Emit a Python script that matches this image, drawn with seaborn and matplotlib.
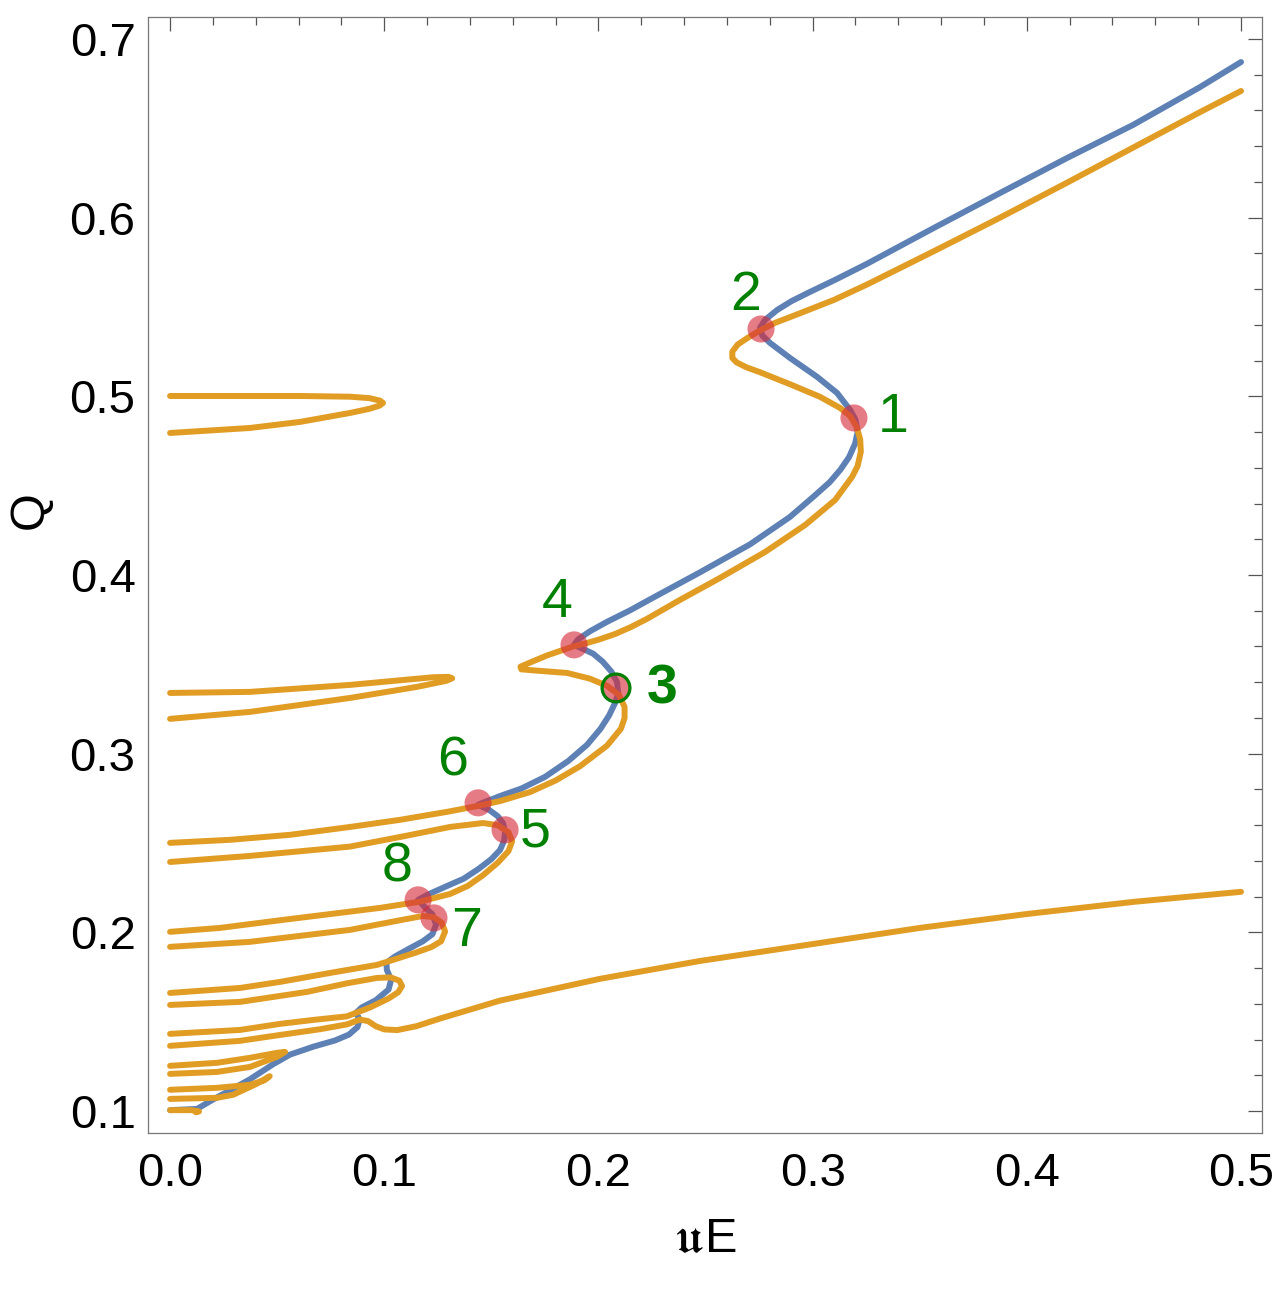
import numpy as np
import pandas as pd
import matplotlib
matplotlib.use("Agg")
import matplotlib.pyplot as plt
import seaborn as sns
from matplotlib.ticker import MultipleLocator

sns.set_style("white")
plt.rcParams['font.family'] = ['Liberation Sans', 'DejaVu Sans']
plt.rcParams['mathtext.fontset'] = 'stix'
plt.rcParams['text.color'] = 'black'
plt.rcParams['axes.labelcolor'] = 'black'
plt.rcParams['xtick.labelcolor'] = 'black'
plt.rcParams['ytick.labelcolor'] = 'black'

BLUE = "#5e81b5"
ORANGE = "#e19c24"
GREEN = "#008000"
RED = "#d62a3a"

# main (blue) branch, read from the top right down to the origin
blue_x = [0.5000, 0.4809, 0.4496, 0.4188, 0.3875, 0.3562, 0.3254, 0.3105, 0.2980, 0.2900,
          0.2834, 0.2778, 0.2754, 0.2765, 0.2801, 0.2894, 0.3021, 0.3114, 0.3175, 0.3200,
          0.3210, 0.3198, 0.3170, 0.3130, 0.3080, 0.3010, 0.2894, 0.2708, 0.2474, 0.2241,
          0.2147, 0.2040, 0.1960, 0.1905, 0.1886, 0.1925, 0.1975, 0.2020, 0.2060, 0.2087,
          0.2092, 0.2080, 0.2050, 0.2010, 0.1947, 0.1860, 0.1750, 0.1640, 0.1545, 0.1470,
          0.1438, 0.1490, 0.1530, 0.1555, 0.1564, 0.1560, 0.1541, 0.1500, 0.1440, 0.1370,
          0.1290, 0.1210, 0.1158, 0.1190, 0.1225, 0.1242, 0.1225, 0.1180, 0.1110, 0.1050,
          0.1010, 0.1012, 0.1032, 0.1020, 0.0960, 0.0895, 0.0868, 0.0885, 0.0875, 0.0835,
          0.0770, 0.0668, 0.0560, 0.0481, 0.0373, 0.0266, 0.0201, 0.0126, 0.0000]
blue_q = [0.6871, 0.6731, 0.6519, 0.6334, 0.6138, 0.5940, 0.5742, 0.5652, 0.5580, 0.5532,
          0.5483, 0.5428, 0.5383, 0.5340, 0.5299, 0.5215, 0.5109, 0.5019, 0.4924, 0.4870,
          0.4800, 0.4735, 0.4660, 0.4590, 0.4520, 0.4445, 0.4325, 0.4172, 0.4015, 0.3864,
          0.3802, 0.3738, 0.3685, 0.3640, 0.3609, 0.3588, 0.3560, 0.3515, 0.3460, 0.3400,
          0.3340, 0.3290, 0.3215, 0.3140, 0.3050, 0.2960, 0.2870, 0.2805, 0.2765, 0.2730,
          0.2714, 0.2685, 0.2650, 0.2610, 0.2562, 0.2515, 0.2462, 0.2410, 0.2355, 0.2300,
          0.2258, 0.2215, 0.2182, 0.2140, 0.2100, 0.2045, 0.1990, 0.1950, 0.1905, 0.1865,
          0.1830, 0.1790, 0.1735, 0.1680, 0.1620, 0.1580, 0.1550, 0.1512, 0.1470, 0.1428,
          0.1395, 0.1360, 0.1316, 0.1262, 0.1178, 0.1107, 0.1065, 0.1012, 0.1005]

# orange branches
oa_x = [0.5, 0.4809, 0.4496, 0.4188, 0.3875, 0.3562, 0.3254, 0.3100, 0.2941, 0.2824,
        0.2759, 0.2700, 0.2650, 0.2625, 0.2625, 0.2645, 0.2690, 0.2754, 0.2894, 0.3035,
        0.3128, 0.3175, 0.3205, 0.3222, 0.3225, 0.3210, 0.3184, 0.3105, 0.2965, 0.2778,
        0.2568, 0.2381, 0.2227, 0.2150, 0.2078, 0.2000, 0.1947, 0.1881, 0.1760, 0.1680,
        0.1636, 0.1640, 0.1700, 0.1853, 0.1960, 0.2040, 0.2095, 0.2122, 0.2122, 0.2105,
        0.2040, 0.1914, 0.1800, 0.1680, 0.1541, 0.1438, 0.1300, 0.1074, 0.0840, 0.0560,
        0.0280, 0.0]
oa_q = [0.6709, 0.6591, 0.6392, 0.6196, 0.6000, 0.5810, 0.5626, 0.5540, 0.5465, 0.5411,
        0.5372, 0.5330, 0.5290, 0.5250, 0.5215, 0.5190, 0.5163, 0.5135, 0.5068, 0.4997,
        0.4935, 0.4890, 0.4830, 0.4760, 0.4690, 0.4610, 0.4549, 0.4420, 0.4280, 0.4129,
        0.3984, 0.3861, 0.3755, 0.3708, 0.3670, 0.3638, 0.3620, 0.3600, 0.3550, 0.3510,
        0.3487, 0.3472, 0.3466, 0.3452, 0.3420, 0.3380, 0.3330, 0.3262, 0.3200, 0.3140,
        0.3045, 0.2930, 0.2850, 0.2785, 0.2735, 0.2708, 0.2676, 0.2630, 0.2590, 0.2546,
        0.2518, 0.2501]
ob_x = [0.0, 0.0373, 0.0840, 0.1100, 0.1307, 0.1461, 0.1530, 0.1580, 0.1597, 0.1580,
        0.1530, 0.1461, 0.1390, 0.1307, 0.1167, 0.0980, 0.0528, 0.0233, 0.0]
ob_q = [0.2394, 0.2428, 0.2480, 0.2540, 0.2590, 0.2612, 0.2600, 0.2560, 0.2510, 0.2455,
        0.2390, 0.2320, 0.2260, 0.2215, 0.2172, 0.2137, 0.2070, 0.2025, 0.2003]
oc_x = [0.0, 0.0373, 0.0840, 0.1074, 0.1181, 0.1230, 0.1268, 0.1284, 0.1265, 0.1220,
        0.1150, 0.1041, 0.0966, 0.0747, 0.0514, 0.0327, 0.0]
oc_q = [0.1919, 0.1947, 0.2014, 0.2068, 0.2092, 0.2085, 0.2055, 0.2005, 0.1950, 0.1918,
        0.1888, 0.1846, 0.1818, 0.1773, 0.1723, 0.1689, 0.1661]
od_x = [0.0, 0.0327, 0.0640, 0.0826, 0.0966, 0.1030, 0.1070, 0.1083, 0.1065, 0.1020,
        0.0934, 0.0826, 0.0668, 0.0514, 0.0327, 0.0]
od_q = [0.1594, 0.1611, 0.1667, 0.1715, 0.1745, 0.1748, 0.1730, 0.1700, 0.1665, 0.1630,
        0.1580, 0.1530, 0.1510, 0.1488, 0.1454, 0.1432]
oe_x = [0.0, 0.0327, 0.0514, 0.0700, 0.0826, 0.0887, 0.0925, 0.0960, 0.1000, 0.1060,
        0.1150, 0.1261, 0.1540, 0.2007, 0.2474, 0.3002, 0.3501, 0.4001, 0.4500, 0.5]
oe_q = [0.1365, 0.1393, 0.1426, 0.1458, 0.1485, 0.1512, 0.1503, 0.1475, 0.1457, 0.1453,
        0.1475, 0.1518, 0.1618, 0.1740, 0.1840, 0.1935, 0.2025, 0.2103, 0.2171, 0.2227]
of_x = [0.0, 0.0219, 0.0373, 0.0500, 0.0537, 0.0500, 0.0373, 0.0219, 0.0]
of_q = [0.1253, 0.1270, 0.1298, 0.1326, 0.1331, 0.1304, 0.1247, 0.1219, 0.1208]
og_x = [0.0, 0.0219, 0.0373, 0.0440, 0.0465, 0.0400, 0.0294, 0.0219, 0.0]
og_q = [0.1119, 0.1130, 0.1147, 0.1172, 0.1195, 0.1150, 0.1091, 0.1074, 0.1068]
oh_x = [0.0, 0.0100, 0.0135, 0.0120]
oh_q = [0.1005, 0.1005, 0.0998, 0.0993]
t1_x = [0.0, 0.0607, 0.0840, 0.0930, 0.0980, 0.0994, 0.0978, 0.0930, 0.0840, 0.0607,
        0.0373, 0.0]
t1_q = [0.5002, 0.5002, 0.4998, 0.4990, 0.4976, 0.4963, 0.4948, 0.4930, 0.4907, 0.4857,
        0.4823, 0.4795]
t2_x = [0.0, 0.0373, 0.0840, 0.1228, 0.1300, 0.1317, 0.1290, 0.1153, 0.0840, 0.0373, 0.0]
t2_q = [0.3340, 0.3346, 0.3385, 0.3428, 0.3430, 0.3422, 0.3408, 0.3374, 0.3312, 0.3234,
        0.3195]

# marked points and their labels
pt_names = ["1", "2", "3", "4", "5", "6", "7", "8"]
pt_x = [0.3193, 0.2759, 0.2082, 0.1886, 0.1564, 0.1438, 0.1232, 0.1158]
pt_q = [0.4879, 0.5377, 0.3368, 0.3609, 0.2574, 0.2725, 0.2081, 0.2182]
lab_x = [0.3375, 0.2689, 0.2297, 0.1807, 0.1704, 0.1317, 0.1382, 0.1060]
lab_q = [0.4879, 0.5562, 0.3357, 0.3844, 0.2557, 0.2954, 0.2003, 0.2361]

branches = {"a": (oa_x, oa_q), "b": (ob_x, ob_q), "c": (oc_x, oc_q), "d": (od_x, od_q),
            "e": (oe_x, oe_q), "f": (of_x, of_q), "g": (og_x, og_q), "h": (oh_x, oh_q),
            "t1": (t1_x, t1_q), "t2": (t2_x, t2_q)}
orange = pd.concat([pd.DataFrame({"uE": bx, "Q": bq, "branch": k})
                    for k, (bx, bq) in branches.items()], ignore_index=True)
blue = pd.DataFrame({"uE": blue_x, "Q": blue_q})

fig = plt.figure(figsize=(12.75, 12.89), dpi=100)
ax = fig.add_axes([0.1161, 0.1210, 0.8737, 0.8658])

sns.lineplot(data=blue, x="uE", y="Q", sort=False, estimator=None, color=BLUE,
             lw=4.3, solid_joinstyle="round", ax=ax, zorder=2)
sns.lineplot(data=orange, x="uE", y="Q", units="branch", sort=False, estimator=None,
             color=ORANGE, lw=4.3, solid_joinstyle="round", ax=ax, zorder=3)
sns.scatterplot(x=pt_x, y=pt_q, s=380, color=RED, alpha=0.62, edgecolor="none",
                ax=ax, zorder=4)
ax.scatter([pt_x[2]], [pt_q[2]], s=400, facecolors="none", edgecolors=GREEN,
           linewidths=2.3, zorder=5)

for name, lx, lq in zip(pt_names, lab_x, lab_q):
    ax.text(lx, lq, name, color=GREEN, fontsize=40, ha="center", va="center",
            fontweight="bold" if name == "3" else "normal", zorder=6)

ax.set_xlim(-0.0103, 0.5098)
ax.set_ylim(0.0877, 0.7123)
ax.set_xticks([0.0, 0.1, 0.2, 0.3, 0.4, 0.5])
ax.set_xticklabels(["0.0", "0.1", "0.2", "0.3", "0.4", "0.5"])
ax.set_yticks([0.1, 0.2, 0.3, 0.4, 0.5, 0.6, 0.7])
ax.set_yticklabels(["0.1", "0.2", "0.3", "0.4", "0.5", "0.6", "0.7"])
ax.xaxis.set_minor_locator(MultipleLocator(0.02))
ax.yaxis.set_minor_locator(MultipleLocator(0.02))
ax.tick_params(which="both", direction="in", top=True, right=True, color="#555555",
               labelsize=34, width=0.9, labelcolor="black")
ax.tick_params(which="major", length=10)
ax.tick_params(which="minor", length=5.5)
ax.tick_params(axis="x", pad=14)
ax.tick_params(axis="y", pad=9)
for sp in ax.spines.values():
    sp.set_color("#777777")
    sp.set_linewidth(0.9)

ax.set_xlabel(r"$\mathfrak{u}$E", fontsize=35, va="center", color="black")
ax.set_ylabel("Q", fontsize=35, va="center", color="black")
ax.xaxis.set_label_coords(0.5, -0.096)
ax.yaxis.set_label_coords(-0.106, 0.558)

fig.savefig("out.png", dpi=100)
